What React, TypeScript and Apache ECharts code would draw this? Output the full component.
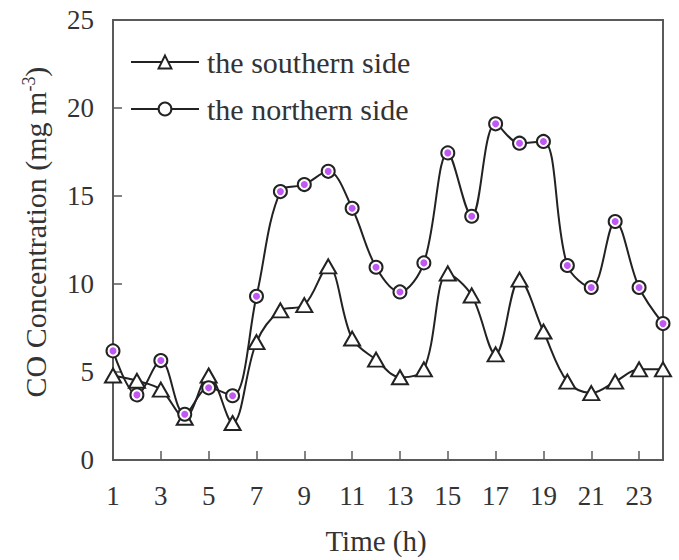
import React, { useEffect, useRef } from "react";
import * as echarts from "echarts";

const hours = ["1","2","3","4","5","6","7","8","9","10","11","12","13","14","15","16","17","18","19","20","21","22","23","24"];
const southern = [4.8, 4.5, 4.0, 2.4, 4.8, 2.1, 6.7, 8.5, 8.8, 11.0, 6.9, 5.7, 4.7, 5.15, 10.6, 9.35, 6.0, 10.25, 7.3, 4.45, 3.8, 4.45, 5.15, 5.15];
const northern = [6.2, 3.7, 5.65, 2.6, 4.1, 3.65, 9.3, 15.25, 15.65, 16.4, 14.3, 10.95, 9.55, 11.2, 17.45, 13.85, 19.1, 18.0, 18.1, 11.05, 9.8, 13.55, 9.8, 7.75];
const yTicks = { min: 0, max: 25, interval: 5 };

const FONT = "'Liberation Serif', 'Times New Roman', serif";

export default function App() {
  const ref = useRef<HTMLDivElement>(null);
  useEffect(() => {
    if (!ref.current) return;
    const chart = echarts.init(ref.current, undefined, { renderer: "svg" });
    const axisColor = "#5a5a5a";
    chart.setOption({
      animation: false,
      backgroundColor: "#ffffff",
      grid: {
        left: 113,
        right: 16,
        top: 20,
        bottom: 97,
        show: true,
        borderColor: axisColor,
        borderWidth: 2,
        backgroundColor: "transparent",
      },
      legend: {
        orient: "vertical",
        left: 125,
        top: 42,
        itemWidth: 68,
        itemHeight: 16,
        itemGap: 17,
        data: ["the southern side", "the northern side"],
        textStyle: {
          fontFamily: FONT,
          fontSize: 30,
          color: "#333",
          padding: [0, 0, 0, 3],
        },
      },
      xAxis: {
        type: "category",
        data: hours,
        boundaryGap: false,
        name: "Time (h)",
        nameLocation: "middle",
        nameGap: 66,
        nameTextStyle: {
          fontFamily: FONT,
          fontSize: 29,
          color: "#333",
          padding: [0, 24, 0, 0],
        },
        axisLine: { lineStyle: { color: axisColor, width: 2 } },
        axisTick: { inside: true, length: 9, interval: 1, lineStyle: { color: axisColor, width: 1.5 } },
        axisLabel: {
          interval: 1,
          margin: 22,
          fontFamily: FONT,
          fontSize: 27,
          color: "#333",
        },
        splitLine: { show: false },
      },
      yAxis: {
        type: "value",
        min: yTicks.min,
        max: yTicks.max,
        interval: yTicks.interval,
        name: "CO Concentration (mg m{sup|-3})",
        nameLocation: "middle",
        nameRotate: 90,
        nameGap: 63,
        nameTextStyle: {
          fontFamily: FONT,
          fontSize: 30,
          color: "#333",
          padding: [0, 0, 0, 16],
          rich: {
            sup: {
              fontFamily: FONT,
              fontSize: 18,
              color: "#333",
              verticalAlign: "top",
              padding: [0, 0, 12, 0],
            },
          },
        },
        axisLine: { show: true, lineStyle: { color: axisColor, width: 2 } },
        axisTick: { show: true, inside: true, length: 9, lineStyle: { color: axisColor, width: 1.5 } },
        axisLabel: {
          margin: 19,
          fontFamily: FONT,
          fontSize: 27,
          color: "#333",
        },
        splitLine: { show: false },
      },
      series: [
        {
          name: "the southern side",
          type: "line",
          data: southern,
          smooth: 0.35,
          symbol: "triangle",
          symbolSize: [16, 14],
          lineStyle: { color: "#222", width: 2 },
          itemStyle: { color: "#ffffff", borderColor: "#222", borderWidth: 2 },
          z: 2,
        },
        {
          name: "the northern side",
          type: "line",
          data: northern,
          smooth: 0.35,
          symbol: "circle",
          symbolSize: 13,
          lineStyle: { color: "#222", width: 2 },
          itemStyle: { color: "#ffffff", borderColor: "#222", borderWidth: 2 },
          z: 3,
        },
        {
          name: "northern dots",
          type: "scatter",
          data: northern,
          symbol: "circle",
          symbolSize: 7,
          itemStyle: { color: "#b02ef0" },
          z: 4,
          silent: true,
        },
      ],
    });
    return () => chart.dispose();
  }, []);
  return (
    <div
      ref={ref}
      style={{ position: "fixed", left: 0, top: 0, width: 679, height: 560 }}
    />
  );
}
